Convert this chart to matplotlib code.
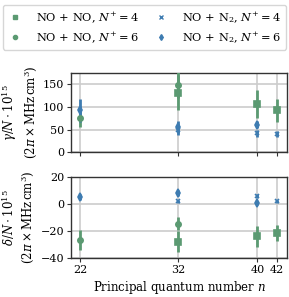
import matplotlib
matplotlib.use("Agg")
import matplotlib.pyplot as plt

plt.rcParams['font.family'] = ['DejaVu Serif']
plt.rcParams['mathtext.fontset'] = 'dejavuserif'
plt.rcParams['font.size'] = 8

green = "#5b9a72"
blue = "#3e7cb1"

# series data
labels = [r"NO + NO, $N^{+} = 4$", r"NO + NO, $N^{+} = 6$",
          r"NO + N$_2$, $N^{+} = 4$", r"NO + N$_2$, $N^{+} = 6$"]

n_nono4 = [32, 40, 42]
g_nono4 = [131, 106, 92]
ge_nono4 = [38, 30, 26]
d_nono4 = [-28, -24, -21.5]
de_nono4 = [8, 8, 6]

n_nono6 = [22, 32]
g_nono6 = [76, 149]
ge_nono6 = [20, 30]
d_nono6 = [-27, -14.5]
de_nono6 = [7.5, 5]

n_non24 = [32, 40, 42]
g_non24 = [48, 42, 40]
ge_non24 = [10, 8, 7]
d_non24 = [2, 6, 2]
de_non24 = [1, 1.5, 1]

n_non26 = [22, 32, 40]
g_non26 = [92, 56, 61]
ge_non26 = [25, 13, 8]
d_non26 = [5.3, 8.4, 0.8]
de_non26 = [2, 2, 1.5]

xticks = [22, 32, 40, 42]

series = [
    (n_nono4, g_nono4, ge_nono4, d_nono4, de_nono4, 's', green, 3.8),
    (n_nono6, g_nono6, ge_nono6, d_nono6, de_nono6, 'o', green, 3.8),
    (n_non24, g_non24, ge_non24, d_non24, de_non24, 'x', blue, 3.2),
    (n_non26, g_non26, ge_non26, d_non26, de_non26, 'd', blue, 3.8),
]

fig = plt.figure(figsize=(2.89, 2.97), dpi=100)
ax1 = fig.add_axes([0.2457, 0.4872, 0.747, 0.268])
ax2 = fig.add_axes([0.2457, 0.1323, 0.747, 0.2707])

handles = []
for (n, g, ge, d, de, m, c, ms), lab in zip(series, labels):
    ax1.errorbar(n, g, yerr=ge, fmt=m, color=c, ms=ms, elinewidth=2.0,
                 capsize=0, mew=1.2, zorder=3)
    ax2.errorbar(n, d, yerr=de, fmt=m, color=c, ms=ms, elinewidth=2.0,
                 capsize=0, mew=1.2, zorder=3)
    h, = ax1.plot([], [], m, color=c, ms=3.0, mew=1.0, label=lab)
    handles.append(h)

for ax in (ax1, ax2):
    ax.set_xlim(21.1, 43)
    ax.set_xticks(xticks)
    ax.grid(True, color="#cccccc", lw=1.2, zorder=0)
    ax.set_axisbelow(True)
    for s in ax.spines.values():
        s.set_color("#333333")
        s.set_linewidth(1.0)
    ax.tick_params(direction='out', length=3, color="#333333", pad=2)

ax1.set_ylim(0, 175)
ax1.set_yticks([0, 50, 100, 150])
ax1.tick_params(labelbottom=False)
ax2.set_ylim(-40, 20)
ax2.set_yticks([-40, -20, 0, 20])

ax1.set_ylabel(r"$\gamma/N\cdot10^{15}$" + "\n" + r"$\left(2\pi\times\mathrm{MHz\,cm^3}\right)$",
               fontsize=8.5, labelpad=3)
ax2.set_ylabel(r"$\delta/N\cdot10^{15}$" + "\n" + r"$\left(2\pi\times\mathrm{MHz\,cm^3}\right)$",
               fontsize=8.5, labelpad=3)
ax2.set_xlabel(r"Principal quantum number $n$", fontsize=8.5, labelpad=3)

fig.legend(handles=handles, loc='upper center', ncol=2,
           bbox_to_anchor=(0.5, 1 - 5/297),
           fontsize=8.2, frameon=True, edgecolor="#cccccc",
           fancybox=True, handlelength=1.2, handletextpad=1.3,
           columnspacing=1.3, borderaxespad=0.0, borderpad=0.45,
           labelspacing=0.45)

fig.savefig("out.png", dpi=100)
